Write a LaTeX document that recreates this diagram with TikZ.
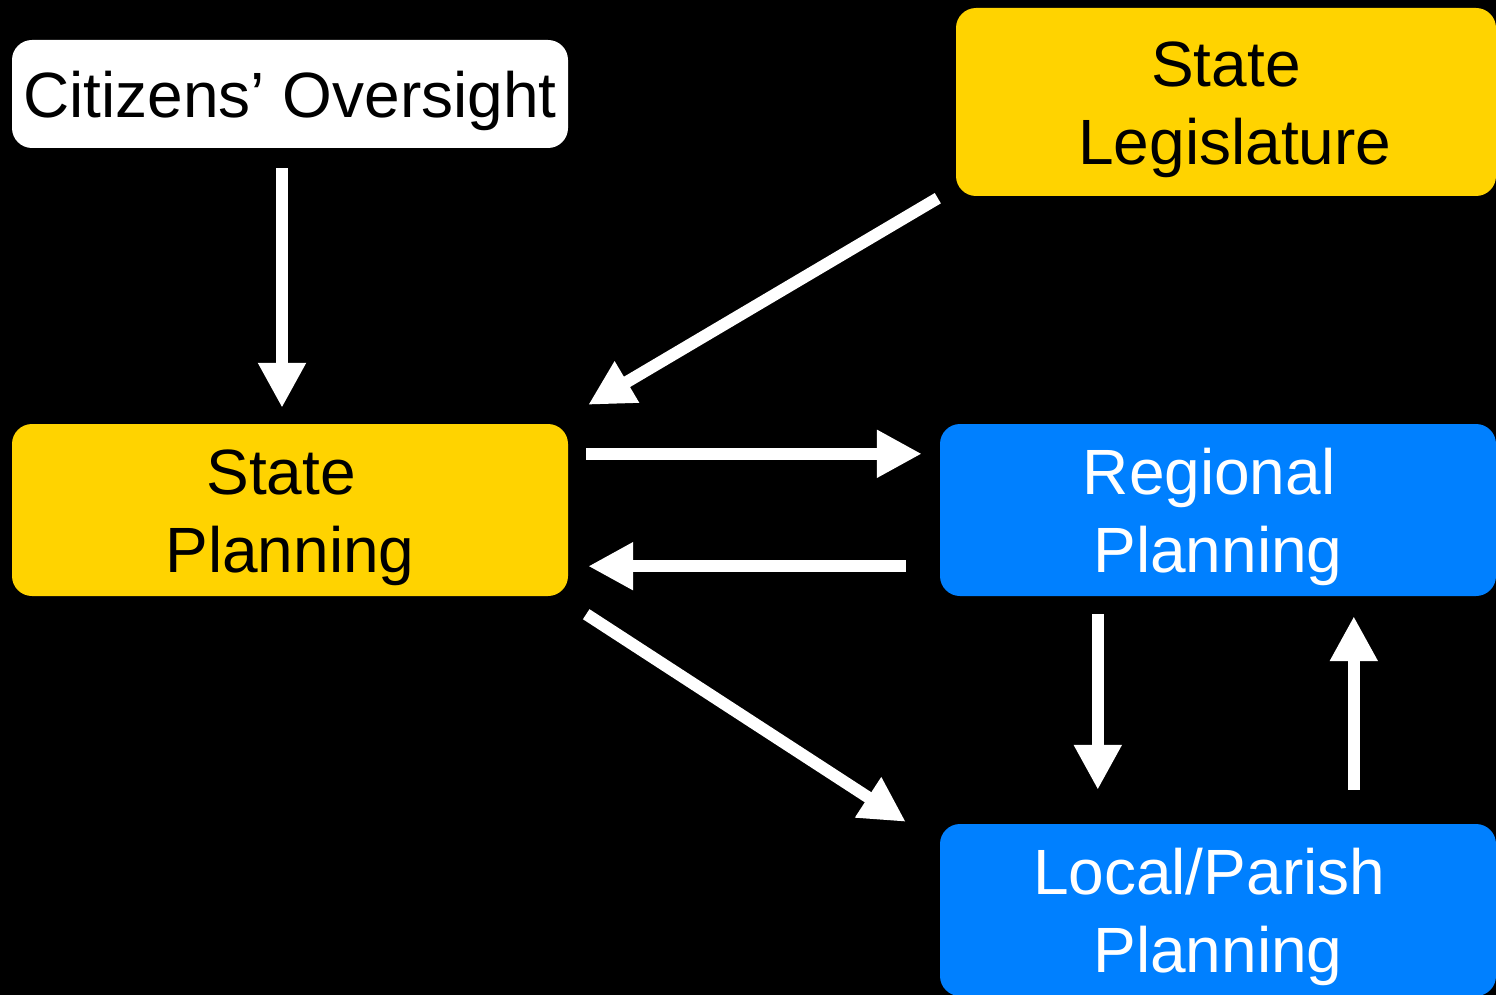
\documentclass[tikz,border=0pt]{standalone}
\usepackage{fontspec}
\setmainfont{Liberation Sans}
\usetikzlibrary{arrows.meta,calc}
\definecolor{boxyellow}{HTML}{FFD300}
\definecolor{boxblue}{HTML}{0080FF}
\newcommand{\gapsp}{\hspace*{0.278em}}
\newcommand{\topstrut}{\rule{0pt}{61pt}}
\tikzset{
  box/.style={rounded corners=20pt, inner sep=0pt, align=center,
    font=\fontsize{64}{78}\selectfont},
  ybox/.style={box, fill=boxyellow, text=black},
  bbox/.style={box, fill=boxblue, text=white},
  wbox/.style={box, fill=white, text=black},
  flow/.style={draw=white, line width=12pt, -{Triangle[length=45pt,width=45pt]}}
}
\begin{document}
\begin{tikzpicture}[x=1pt,y=-1pt]
\useasboundingbox (0,0) rectangle (1496,995);
\fill[black] (0,0) rectangle (1496,995);
\clip (0,0) rectangle (1496,995);
\node[wbox, minimum width=556pt, minimum height=108pt] (cit) at (290,94) {\topstrut Citizens’ Oversight};
\node[ybox, minimum width=540pt, minimum height=188pt] (leg) at (1226,102) {\topstrut State\\ \gapsp Legislature};
\node[ybox, minimum width=556pt, minimum height=172pt] (sp) at (290,510) {\topstrut State\gapsp\\ Planning};
\node[bbox, minimum width=556pt, minimum height=172pt] (rp) at (1218,510) {\topstrut Regional\gapsp\\ Planning};
\node[bbox, minimum width=556pt, minimum height=172pt] (lp) at (1218,910) {\topstrut Local/Parish\gapsp\\ Planning};
\draw[flow] ($(cit.south)+(-8,20)$) -- ($(sp.north)+(-8,-16)$);
\draw[flow] ($(leg.south west)+(-18,2)$) -- ($(sp.north east)+(20,-19)$);
\draw[flow] ($(sp.north east)+(18,30)$) -- ($(rp.north west)+(-18,30)$);
\draw[flow] ($(rp.south west)+(-34,-30)$) -- ($(sp.south east)+(20,-30)$);
\draw[flow] ($(sp.south east)+(18,18)$) -- ($(lp.north west)+(-34,-2)$);
\draw[flow] ($(rp.south west)+(158,18)$) -- ($(lp.north west)+(158,-34)$);
\draw[flow] ($(lp.north west)+(414,-34)$) -- ($(rp.south west)+(414,20)$);
\end{tikzpicture}
\end{document}
